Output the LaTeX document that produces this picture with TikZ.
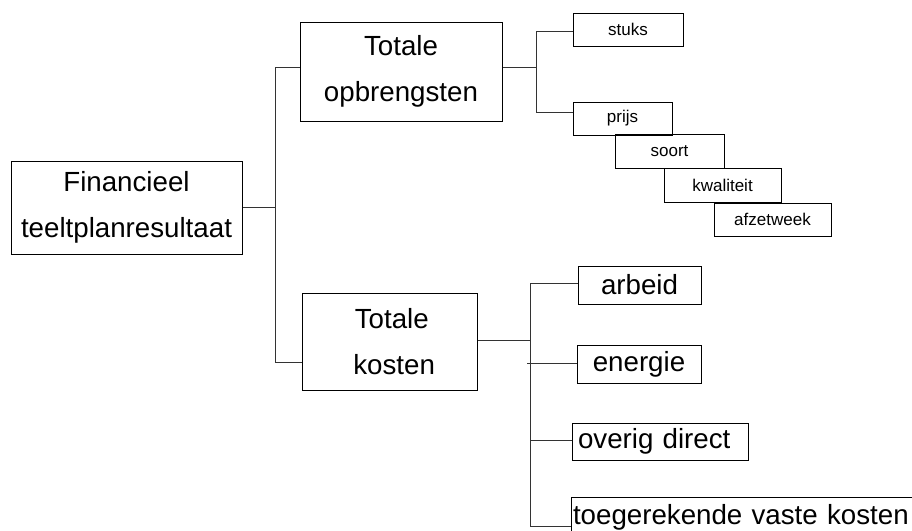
\documentclass[tikz,border=0pt]{standalone}
\usepackage{fontspec}
\setmainfont{Liberation Sans}
\begin{document}
\begin{tikzpicture}[x=1pt,y=-1pt,
  box/.style={draw=black,line width=1pt,rectangle,inner sep=0pt,align=center},
  bigtext/.style={font=\fontsize{27.7}{45.5}\selectfont},
  smalltext/.style={font=\fontsize{17}{20}\selectfont},
  link/.style={draw=black!80,line width=1pt}]
\clip (0,0) rectangle (912,530);
\useasboundingbox (0,0) rectangle (912,530);
\fill[white] (0,0) rectangle (912,530);

% root and the two main branches
\node[box,bigtext,minimum width=231,minimum height=93] (fin) at (126.5,207.5) {Financieel\\teeltplanresultaat};
\node[box,bigtext,minimum width=202,minimum height=99] (opb) at (401,71.5) {Totale\\opbrengsten};
\node[box,bigtext,minimum width=175,minimum height=97] (kost) at (389.5,341.5) {\,Totale\\\,\,kosten};

% revenue components
\node[box,smalltext,minimum width=110,minimum height=33] (stuks) at (628,29.5) {stuks};
\node[box,smalltext,minimum width=99,minimum height=33] (prijs) at (622.5,118.5) {prijs};
\node[box,smalltext,minimum width=109,minimum height=34] (soort) at (669.5,151) {soort};
\node[box,smalltext,minimum width=117,minimum height=34] (kwal) at (722.5,185) {kwaliteit};
\node[box,smalltext,minimum width=117,minimum height=33] (afzet) at (772.5,219.5) {afzetweek};

% cost components
\node[box,bigtext,minimum width=123,minimum height=38] (arbeid) at (639.5,285) {arbeid};
\node[box,bigtext,minimum width=124,minimum height=38] (energie) at (639,364) {energie};
\node[box,bigtext,inner xsep=6pt,text width=164,align=left,minimum height=37] (overig) at (660,441.5) {overig direct};
\node[box,bigtext,inner xsep=2pt,text width=350,align=left,minimum height=40] (toeg) at (748,517) {toegerekende vaste kosten};

% bus joints
\coordinate (b1top) at (275,67);
\coordinate (b1bot) at (275,362);
\coordinate (b2top) at (536,31);
\coordinate (b2bot) at (536,112);
\coordinate (b3top) at (530,283);
\coordinate (b3bot) at (530,526);
\coordinate (b3e) at (527,363);

% root to main branches
\draw[link] (b1top) -- (b1bot);
\draw[link] (fin.east) -- (fin.east -| b1top);
\draw[link] (b1top) -- (opb.west |- b1top);
\draw[link] (b1bot) -- (kost.west |- b1bot);

% revenue branch
\draw[link] (b2top) -- (b2bot);
\draw[link] (opb.east |- 0,67) -- (b2top |- 0,67);
\draw[link] (b2top) -- (stuks.west |- b2top);
\draw[link] (b2bot) -- (prijs.west |- b2bot);

% cost branch
\draw[link] (b3top) -- (b3bot);
\draw[link] (kost.east |- 0,340) -- (b3top |- 0,340);
\draw[link] (b3top) -- (arbeid.west |- b3top);
\draw[link] (b3e) -- (energie.west |- b3e);
\draw[link] (b3top |- 0,440) -- (overig.west |- 0,440);
\draw[link] (b3bot) -- (toeg.west |- b3bot);
\end{tikzpicture}
\end{document}
